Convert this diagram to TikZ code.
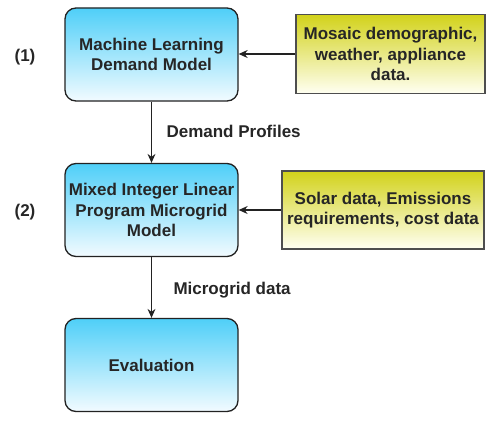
\documentclass[tikz,border=0pt]{standalone}
\usepackage{fontspec}
\setmainfont{Liberation Sans}
\usetikzlibrary{arrows.meta}
\definecolor{stageTop}{HTML}{4FCFF8}
\definecolor{stageBot}{HTML}{F2FBFF}
\definecolor{inputTop}{HTML}{D2D21A}
\definecolor{inputBot}{HTML}{FFFFF2}
\definecolor{edge}{HTML}{222222}
\tikzset{
  stage/.style={draw=edge, line width=1.3pt, rounded corners=11pt,
    top color=stageTop, bottom color=stageBot,
    minimum width=173pt, minimum height=93pt, inner sep=0pt,
    align=center, font=\fontsize{17}{20.5}\selectfont\bfseries, text=black!85},
  inputbox/.style={draw=edge!80, line width=1.1pt,
    top color=inputTop, bottom color=inputBot,
    inner sep=0pt, align=center,
    font=\fontsize{17}{20.5}\selectfont\bfseries, text=black!85},
  link/.style={draw=edge, line width=1.1pt, -{Stealth[length=9pt,width=8pt,inset=3pt]}},
  tag/.style={font=\fontsize{17}{20}\selectfont\bfseries, text=black!85}
}
\begin{document}
\begin{tikzpicture}[x=1pt,y=-1pt]
\useasboundingbox[fill=white] (0,0) rectangle (486,420);

% processing stages
\node[stage] (ml)   at (151.5,54.5)  {Machine Learning\\Demand Model};
\node[stage] (milp) at (151.5,210)   {Mixed Integer Linear\\Program Microgrid\\Model};
\node[stage] (eval) at (151.5,365)   {Evaluation};

% input data sources
\node[inputbox, minimum width=189pt, minimum height=79pt] (din1) at (390.5,54)
  {Mosaic demographic,\\weather, appliance\\data.};
\node[inputbox, minimum width=202pt, minimum height=78pt] (din2) at (383,210)
  {Solar data, Emissions\\requirements, cost data};

% step numbers
\node[tag] (n1) at (25,57)  {(1)};
\node[tag] (n2) at (25,212) {(2)};

% connectors
\draw[link] (din1.west) -- (din1.west -| ml.east);
\draw[link] (din2.west) -- (din2.west -| milp.east);
\draw[link] (ml.south) -- (milp.north);
\draw[link] (milp.south) -- (eval.north);

% connector labels
\node[tag, anchor=west] (lp) at (163,131) {Demand Profiles};
\node[tag, anchor=west] (lm) at (170,290) {Microgrid data};
\end{tikzpicture}
\end{document}
